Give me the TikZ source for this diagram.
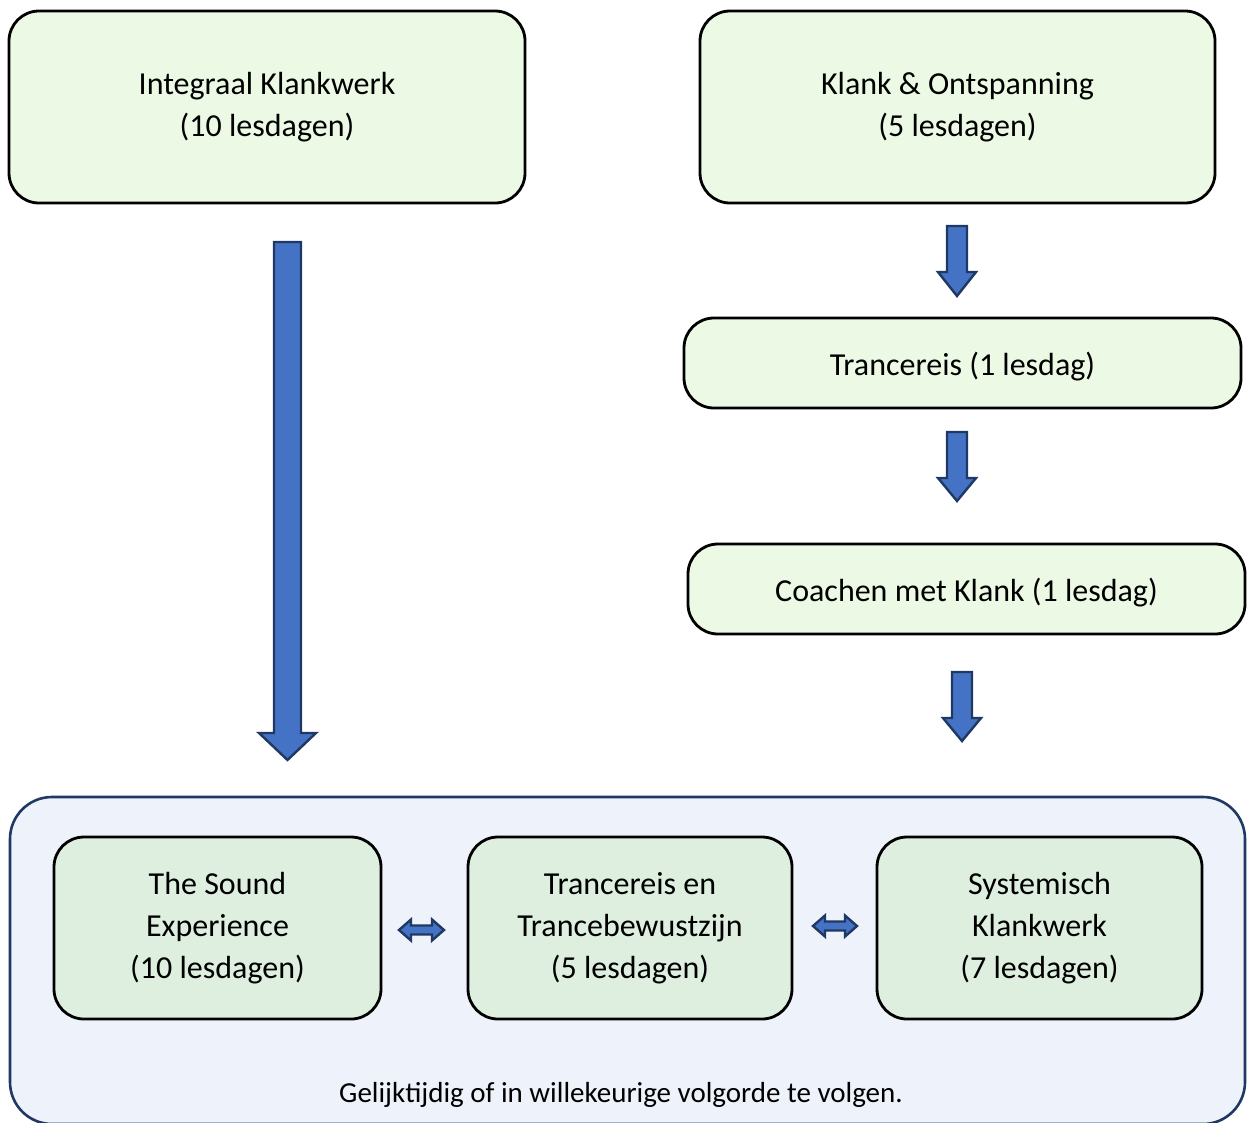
\documentclass[tikz,border=0pt]{standalone}
\usepackage{fontspec}
\setmainfont{Carlito}
\definecolor{topfill}{HTML}{EBF9E5}
\definecolor{innerfill}{HTML}{DEEFDF}
\definecolor{outerfill}{HTML}{EEF2FA}
\definecolor{navy}{HTML}{1F3864}
\definecolor{arrowblue}{HTML}{4472C4}
\tikzset{
  topbox/.style={draw=black, line width=2.8pt, fill=topfill, rounded corners=30pt, align=center, font=\fontsize{32}{42}\selectfont, inner sep=0pt},
  linebox/.style={topbox, text height=27pt, text depth=2pt, minimum width=557pt, minimum height=90pt},
  innerbox/.style={draw=black, line width=2.8pt, fill=innerfill, rounded corners=30pt, align=center, font=\fontsize{32}{42}\selectfont, inner sep=0pt, minimum height=182pt},
  outerbox/.style={draw=navy, line width=2.6pt, fill=outerfill, rounded corners=42pt, inner sep=0pt},
  blockarrow/.style={draw=navy, line width=2.4pt, fill=arrowblue, line join=miter},
  footer/.style={font=\fontsize{29}{34}\selectfont, inner sep=0pt}
}
\begin{document}
\begin{tikzpicture}[x=1pt,y=-1pt]
\useasboundingbox (0,0) rectangle (1247,1122);
% top boxes
\node[topbox, minimum width=516pt, minimum height=192pt] (ik) at (267,107) {Integraal Klankwerk\\(10 lesdagen)};
\node[topbox, minimum width=515pt, minimum height=192pt] (ko) at (957.5,107) {Klank \& Ontspanning\\(5 lesdagen)};
\node[linebox] (tr) at (962.5,363) {Trancereis (1 lesdag)};
\node[linebox] (co) at (966.5,589) {Coachen met Klank (1 lesdag)};
% outer container
\node[outerbox, minimum width=1235pt, minimum height=327pt] (outer) at (627.5,960.5) {};
\node[footer] (foot) at (621,1095) {Gelijktijdig of in willekeurige volgorde te volgen.};
% inner boxes
\node[innerbox, minimum width=327pt] (tse) at (217.5,928) {The Sound\\Experience\\(10 lesdagen)};
\node[innerbox, minimum width=324pt] (tte) at (630,928) {Trancereis en\\Trancebewustzijn\\(5 lesdagen)};
\node[innerbox, minimum width=325pt] (sk) at (1039.5,928) {Systemisch\\Klankwerk\\(7 lesdagen)};
% big down arrow (ik -> outer)
\draw[blockarrow] (274,242) -- (301,242) -- (301,733) -- (316,733) -- (287.5,760) -- (259,733) -- (274,733) -- cycle;
% small down arrows
\draw[blockarrow] (947,226) -- (967,226) -- (967,272) -- (976,272) -- (957,296) -- (938,272) -- (947,272) -- cycle;
\draw[blockarrow] (947,432) -- (967,432) -- (967,478) -- (976,478) -- (957,501) -- (938,478) -- (947,478) -- cycle;
\draw[blockarrow] (952,672) -- (972,672) -- (972,718) -- (981,718) -- (962,741) -- (943,718) -- (952,718) -- cycle;
% double arrows
\draw[blockarrow] (399,930) -- (411,919.5) -- (411,925.5) -- (432,925.5) -- (432,919.5) -- (444,930) -- (432,940.5) -- (432,934.5) -- (411,934.5) -- (411,940.5) -- cycle;
\draw[blockarrow] (813,926) -- (825,915.5) -- (825,921.5) -- (845,921.5) -- (845,915.5) -- (857,926) -- (845,936.5) -- (845,930.5) -- (825,930.5) -- (825,936.5) -- cycle;
\end{tikzpicture}
\end{document}
